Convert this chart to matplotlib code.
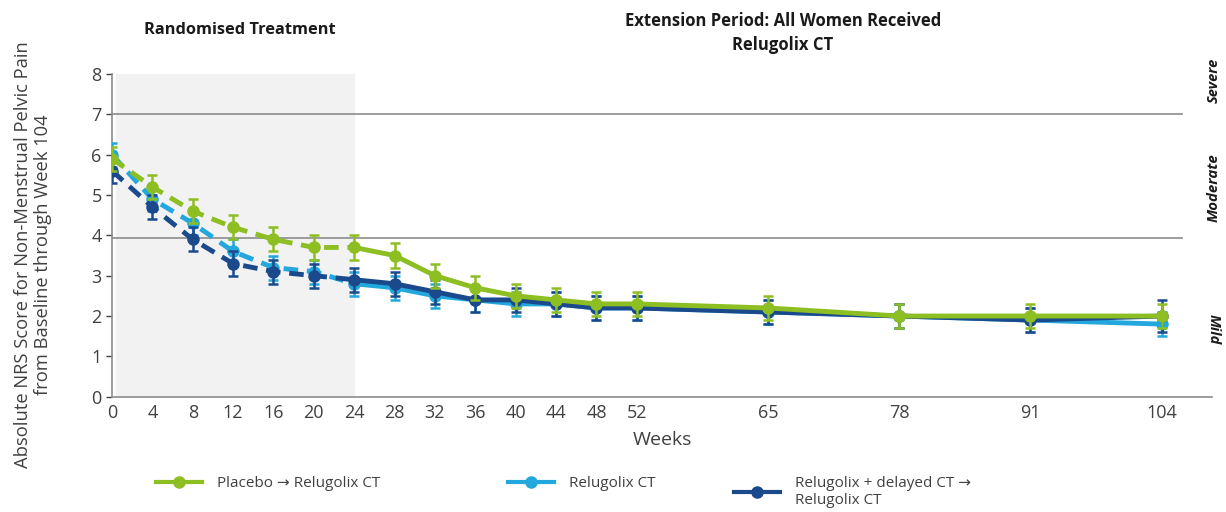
import numpy as np
import matplotlib
matplotlib.use('Agg')
import matplotlib.pyplot as plt

plt.rcParams['font.family'] = ['Open Sans', 'DejaVu Sans']

# Semanas de visita y puntuación NRS media (± error) por grupo
semanas = [0, 4, 8, 12, 16, 20, 24, 28, 32, 36, 40, 44, 48, 52, 65, 78, 91, 104]
placebo = [5.9, 5.2, 4.6, 4.2, 3.9, 3.7, 3.7, 3.5, 3.0, 2.7, 2.5, 2.4, 2.3, 2.3, 2.2, 2.0, 2.0, 2.0]
relugolix = [6.0, 4.9, 4.3, 3.6, 3.2, 3.1, 2.8, 2.7, 2.5, 2.4, 2.3, 2.3, 2.2, 2.2, 2.1, 2.0, 1.9, 1.8]
retardado = [5.6, 4.7, 3.9, 3.3, 3.1, 3.0, 2.9, 2.8, 2.6, 2.4, 2.4, 2.3, 2.2, 2.2, 2.1, 2.0, 1.9, 2.0]
err_placebo = [0.3, 0.3, 0.3, 0.3, 0.3, 0.3, 0.3, 0.3, 0.3, 0.3, 0.3, 0.3, 0.3, 0.3, 0.3, 0.3, 0.3, 0.3]
err_relugolix = [0.3, 0.3, 0.3, 0.3, 0.3, 0.3, 0.3, 0.3, 0.3, 0.3, 0.3, 0.3, 0.3, 0.3, 0.3, 0.3, 0.3, 0.3]
err_retardado = [0.3, 0.3, 0.3, 0.3, 0.3, 0.3, 0.3, 0.3, 0.3, 0.3, 0.3, 0.3, 0.3, 0.3, 0.3, 0.3, 0.3, 0.4]

etiquetas = ['Placebo \u2192 Relugolix CT', 'Relugolix CT',
             'Relugolix + delayed CT \u2192\nRelugolix CT']
colores = ['#8DBE22', '#22A8DC', '#1B4A8C']

fig = plt.figure(figsize=(12.26, 5.12), dpi=100)
ax = fig.add_axes([112/1226, 1 - 396.7/512, 1100/1226, 322.7/512])

ax.axvspan(0.4, 24, ymin=0, ymax=1, color='#f2f2f2', zorder=0)
for yv in [7, 3.93]:
    ax.plot([0, 106], [yv, yv], color='#8c8c8c', lw=1.2, zorder=1)

x = np.array(semanas)
corte = semanas.index(24)
datos = [placebo, relugolix, retardado]
errores = [err_placebo, err_relugolix, err_retardado]
capas = [5, 3, 4]  # el placebo queda encima
handles = []
for k in range(3):
    y = np.array(datos[k])
    c = colores[k]
    z = capas[k]
    ax.errorbar(x, y, yerr=errores[k], fmt='none', ecolor=c, elinewidth=1.8,
                capsize=3.5, capthick=1.8, zorder=z)
    ax.plot(x[:corte + 1], y[:corte + 1], color=c, lw=3.5,
            linestyle=(0, (3, 1.8)), zorder=z)
    h, = ax.plot(x[corte:], y[corte:], color=c, lw=3.5, zorder=z)
    ax.plot(x, y, 'o', color=c, ms=8, zorder=z)
    handles.append(h)

ax.set_xlim(0, 109)
ax.set_ylim(0, 8)
ax.set_xticks(semanas)
ax.set_yticks(range(9))
ax.tick_params(axis='x', length=0, labelsize=13, pad=5, colors='#404040')
ax.tick_params(axis='y', length=4, labelsize=13, colors='#404040', width=1)
for s in ['top', 'right']:
    ax.spines[s].set_visible(False)
for s in ['left', 'bottom']:
    ax.spines[s].set_color('#8c8c8c')
    ax.spines[s].set_linewidth(1.2)

ax.set_xlabel('Weeks', fontsize=14, color='#404040', labelpad=7)
fig.text(33/1226, 1 - 255/512,
         'Absolute NRS Score for Non-Menstrual Pelvic Pain\nfrom Baseline through Week 104',
         rotation=90, ha='center', va='center', fontsize=13.2, color='#404040',
         linespacing=1.2)

fig.text(240/1226, 1 - 30/512, 'Randomised Treatment', ha='center', va='center',
         fontsize=11.8, fontweight='bold', color='#1a1a1a')
fig.text(783/1226, 1 - 33/512, 'Extension Period: All Women Received\nRelugolix CT',
         ha='center', va='center', fontsize=12, fontweight='bold', color='#1a1a1a',
         linespacing=1.45)

# Categorías de dolor a la derecha
fig.text(1214/1226, 1 - 80/512, 'Severe', rotation=90, ha='center', va='center',
         fontsize=10.5, fontweight='bold', style='italic', color='#1a1a1a')
fig.text(1214/1226, 1 - 188/512, 'Moderate', rotation=90, ha='center', va='center',
         fontsize=10.8, fontweight='bold', style='italic', color='#1a1a1a')
fig.text(1214/1226, 1 - 329/512, 'Mild', rotation=-90, ha='center', va='center',
         fontsize=10.5, fontweight='bold', style='italic', color='#1a1a1a')

# Leyenda: una entrada por grupo
posiciones = [150, 502, 728]
for h, lab, px in zip(handles, etiquetas, posiciones):
    leg = fig.legend([h], [lab], loc='upper left', bbox_to_anchor=(px/1226, 1 - 470/512),
                     frameon=False, fontsize=11, handlelength=3, handletextpad=1.0,
                     borderaxespad=0, labelcolor='#404040')
    leg.legend_handles[0].set_marker('o')
    leg.legend_handles[0].set_markersize(8)
    leg.legend_handles[0].set_linewidth(3)

fig.savefig('out.png', dpi=100)
